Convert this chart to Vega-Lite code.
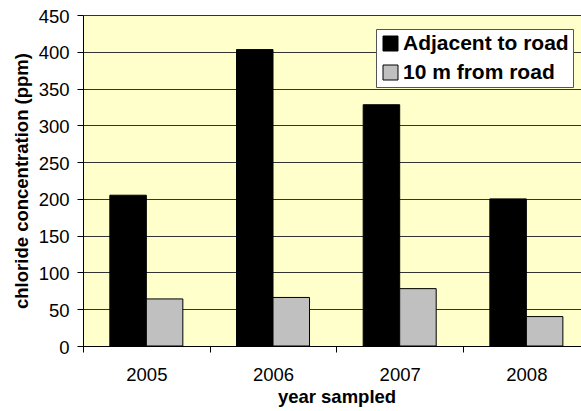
{
  "$schema": "https://vega.github.io/schema/vega-lite/v6.json",
  "width": 498,
  "height": 331,
  "autosize": {"type": "none"},
  "padding": {"left": 83, "top": 15, "right": 0, "bottom": 65},
  "background": "white",
  "config": {
    "font": "Liberation Sans",
    "view": {"fill": "#FFFFCC", "stroke": null}
  },
  "data": {
    "values": [
      {"year": "2005", "series": "Adjacent to road", "ppm": 205},
      {"year": "2005", "series": "10 m from road", "ppm": 64},
      {"year": "2006", "series": "Adjacent to road", "ppm": 403},
      {"year": "2006", "series": "10 m from road", "ppm": 66},
      {"year": "2007", "series": "Adjacent to road", "ppm": 328},
      {"year": "2007", "series": "10 m from road", "ppm": 78},
      {"year": "2008", "series": "Adjacent to road", "ppm": 200},
      {"year": "2008", "series": "10 m from road", "ppm": 40}
    ]
  },
  "mark": {"type": "bar", "stroke": "black", "strokeWidth": 1},
  "encoding": {
    "x": {
      "field": "year",
      "type": "ordinal",
      "scale": {"range": [0, 506.7], "paddingInner": 0, "paddingOuter": 0},
      "axis": {
        "title": "year sampled",
        "labelAngle": 0,
        "labelFontSize": 18.5,
        "labelColor": "black",
        "labelPadding": 13,
        "tickSize": 6,
        "tickColor": "black",
        "tickBand": "extent",
        "domainColor": "black",
        "titleFontSize": 18.5,
        "titleFontWeight": "bold",
        "titleColor": "black",
        "titleBaseline": "alphabetic",
        "titleAnchor": "middle",
        "titleX": 253.5,
        "titleY": 56,
        "grid": false
      }
    },
    "xOffset": {
      "field": "series",
      "type": "nominal",
      "sort": ["Adjacent to road", "10 m from road"],
      "scale": {"paddingInner": 0, "paddingOuter": 0.735}
    },
    "y": {
      "field": "ppm",
      "type": "quantitative",
      "scale": {"domain": [0, 450], "nice": false},
      "axis": {
        "title": "chloride concentration (ppm)",
        "values": [0, 50, 100, 150, 200, 250, 300, 350, 400, 450],
        "labelFontSize": 18.5,
        "labelColor": "black",
        "labelPadding": 8,
        "labelOffset": 1,
        "tickSize": 6,
        "tickColor": "black",
        "domainColor": "black",
        "gridColor": "#333333",
        "gridWidth": 1,
        "titleFontSize": 18.5,
        "titleFontWeight": "bold",
        "titleColor": "black",
        "titleAngle": -90,
        "titleBaseline": "alphabetic",
        "titleAlign": "center",
        "titleX": -55.5,
        "titleY": 165.5
      }
    },
    "color": {
      "field": "series",
      "type": "nominal",
      "sort": ["Adjacent to road", "10 m from road"],
      "scale": {"domain": ["Adjacent to road", "10 m from road"], "range": ["#000000", "#C0C0C0"]},
      "legend": {
        "title": null,
        "orient": "none",
        "legendX": 293,
        "legendY": 14,
        "fillColor": "white",
        "strokeColor": "#555555",
        "padding": 4,
        "rowPadding": 7,
        "symbolType": "square",
        "symbolSize": 225,
        "symbolStrokeColor": "black",
        "symbolStrokeWidth": 1,
        "labelFontSize": 21,
        "labelFontWeight": "bold",
        "labelColor": "black",
        "labelOffset": 2,
        "labelLimit": 300
      }
    }
  }
}
